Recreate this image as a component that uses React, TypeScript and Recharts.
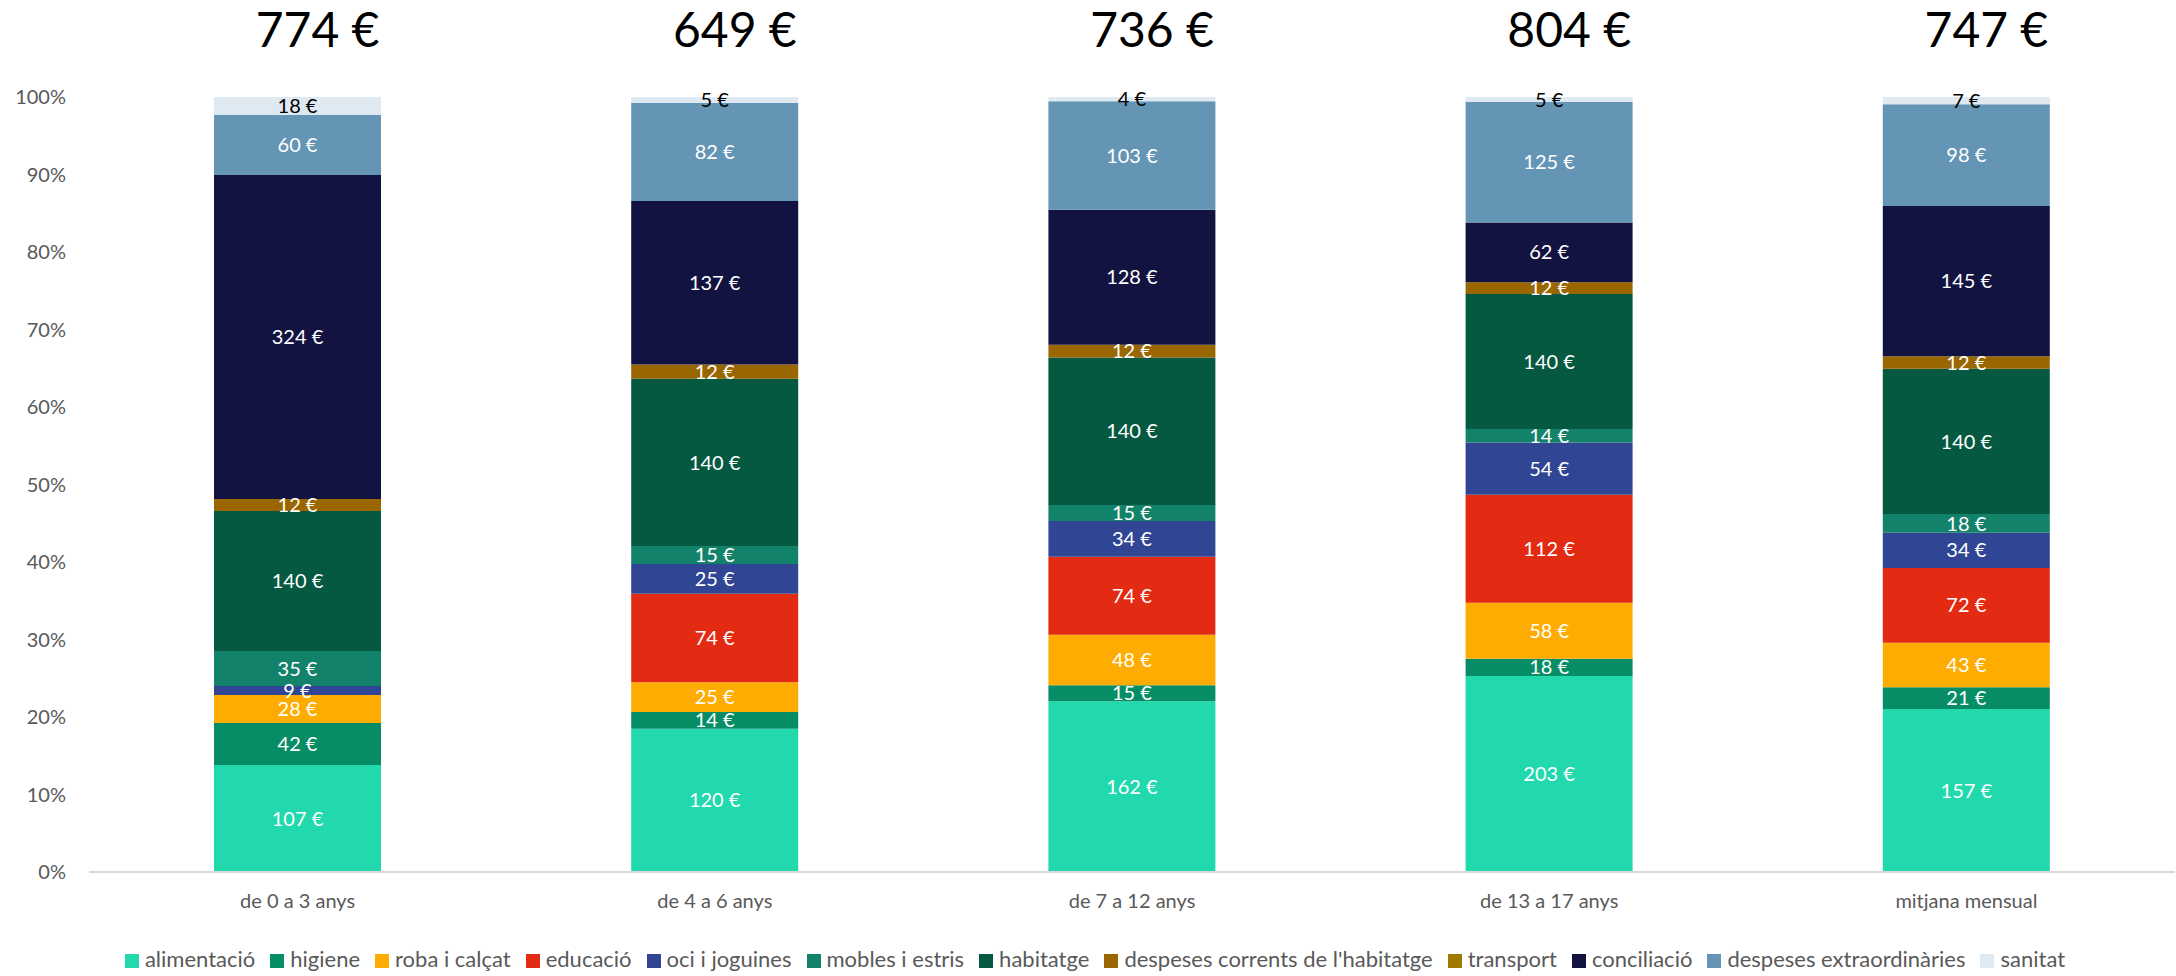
import { BarChart, Bar, XAxis, YAxis, Legend, LabelList } from "recharts";

const categories = [
    "de 0 a 3 anys",
    "de 4 a 6 anys",
    "de 7 a 12 anys",
    "de 13 a 17 anys",
    "mitjana mensual",
];
const totals = [774, 649, 736, 804, 747];

const alimentacio = [107, 120, 162, 203, 157];
const higiene = [42, 14, 15, 18, 21];
const roba = [28, 25, 48, 58, 43];
const educacio = [0, 74, 74, 112, 72];
const oci = [9, 25, 34, 54, 34];
const mobles = [35, 15, 15, 14, 18];
const habitatge = [140, 140, 140, 140, 140];
const despesesCorrents = [12, 12, 12, 12, 12];
const transport = [0, 0, 0, 0, 0];
const conciliacio = [324, 137, 128, 62, 145];
const extraordinaries = [60, 82, 103, 125, 98];
const sanitat = [18, 5, 4, 5, 7];

const yTicks = [0, 0.1, 0.2, 0.3, 0.4, 0.5, 0.6, 0.7, 0.8, 0.9, 1];

// series: key, legend name, values, colour, label colour
const series = [
    { key: "alimentacio", name: "alimentació", values: alimentacio, color: "#21D9AC", text: "#FFFFFF" },
    { key: "higiene", name: "higiene", values: higiene, color: "#078D66", text: "#FFFFFF" },
    { key: "roba", name: "roba i calçat", values: roba, color: "#FFAC00", text: "#FFFFFF" },
    { key: "educacio", name: "educació", values: educacio, color: "#E32B13", text: "#FFFFFF" },
    { key: "oci", name: "oci i joguines", values: oci, color: "#304695", text: "#FFFFFF" },
    { key: "mobles", name: "mobles i estris", values: mobles, color: "#13826A", text: "#FFFFFF" },
    { key: "habitatge", name: "habitatge", values: habitatge, color: "#045940", text: "#FFFFFF" },
    { key: "corrents", name: "despeses corrents de l'habitatge", values: despesesCorrents, color: "#996600", text: "#FFFFFF" },
    { key: "transport", name: "transport", values: transport, color: "#9E7A00", text: "#FFFFFF" },
    { key: "conciliacio", name: "conciliació", values: conciliacio, color: "#121340", text: "#FFFFFF" },
    { key: "extra", name: "despeses extraordinàries", values: extraordinaries, color: "#6495B4", text: "#FFFFFF" },
    { key: "sanitat", name: "sanitat", values: sanitat, color: "#DFE9F1", text: "#000000" },
];

const seriesOrder = series.map((s) => s.name);

const data = categories.map((cat, i) => {
    const row: Record<string, string | number> = { cat, total: totals[i] };
    series.forEach((s) => {
        row[s.key] = s.values[i];
    });
    return row;
});

const FONT = "Lato, 'Open Sans', sans-serif";

const TotalTick = (props: any) => {
    const { x, y, index } = props;
    return (
        <text
            x={x + 20}
            y={y}
            textAnchor="middle"
            fontFamily={FONT}
            fontSize={48}
            fill="#000000"
        >
            {`${totals[index]} €`}
        </text>
    );
};

const App = () => {
    return (
        <div style={{ position: "absolute", left: 0, top: 0, background: "#fff" }}>
            <BarChart
                width={2176}
                height={976}
                data={data}
                stackOffset="expand"
                barSize={167}
                margin={{ top: 0, right: 1, left: 0, bottom: 0 }}
            >
                <XAxis
                    dataKey="cat"
                    height={50}
                    tickLine={false}
                    tickSize={0}
                    tickMargin={22}
                    stroke="#D9D9D9"
                    strokeWidth={2}
                    tick={{ fill: "#595959", fontSize: 20, fontFamily: FONT }}
                />
                <XAxis
                    xAxisId="top"
                    dataKey="cat"
                    orientation="top"
                    height={97}
                    axisLine={false}
                    tickLine={false}
                    tickSize={0}
                    tickMargin={50}
                    tick={<TotalTick />}
                />
                <YAxis
                    width={89}
                    domain={[0, 1]}
                    ticks={yTicks}
                    axisLine={false}
                    tickLine={false}
                    tickSize={0}
                    tickMargin={23}
                    tickFormatter={(v: number) => `${Math.round(v * 100)}%`}
                    tick={{ fill: "#595959", fontSize: 20, fontFamily: FONT }}
                />
                <Legend
                    verticalAlign="bottom"
                    iconType="square"
                    iconSize={14}
                    itemSorter={(item: any) => seriesOrder.indexOf(item.value)}
                    wrapperStyle={{
                        height: 54,
                        paddingTop: 23,
                        paddingLeft: 30,
                        boxSizing: "border-box",
                        fontFamily: FONT,
                        fontSize: 22,
                    }}
                    formatter={(value: string) => (
                        <span style={{ color: "#595959", marginLeft: 2, marginRight: 5 }}>
                            {value}
                        </span>
                    )}
                />
                {series.map((s) => (
                    <Bar
                        key={s.key}
                        dataKey={s.key}
                        name={s.name}
                        stackId="a"
                        fill={s.color}
                        isAnimationActive={false}
                    >
                        <LabelList
                            dataKey={s.key}
                            position="center"
                            fill={s.text}
                            fontSize={20}
                            fontFamily={FONT}
                            formatter={(v: any) => (Number(v) ? `${v} €` : "")}
                        />
                    </Bar>
                ))}
            </BarChart>
        </div>
    );
};

export default App;
